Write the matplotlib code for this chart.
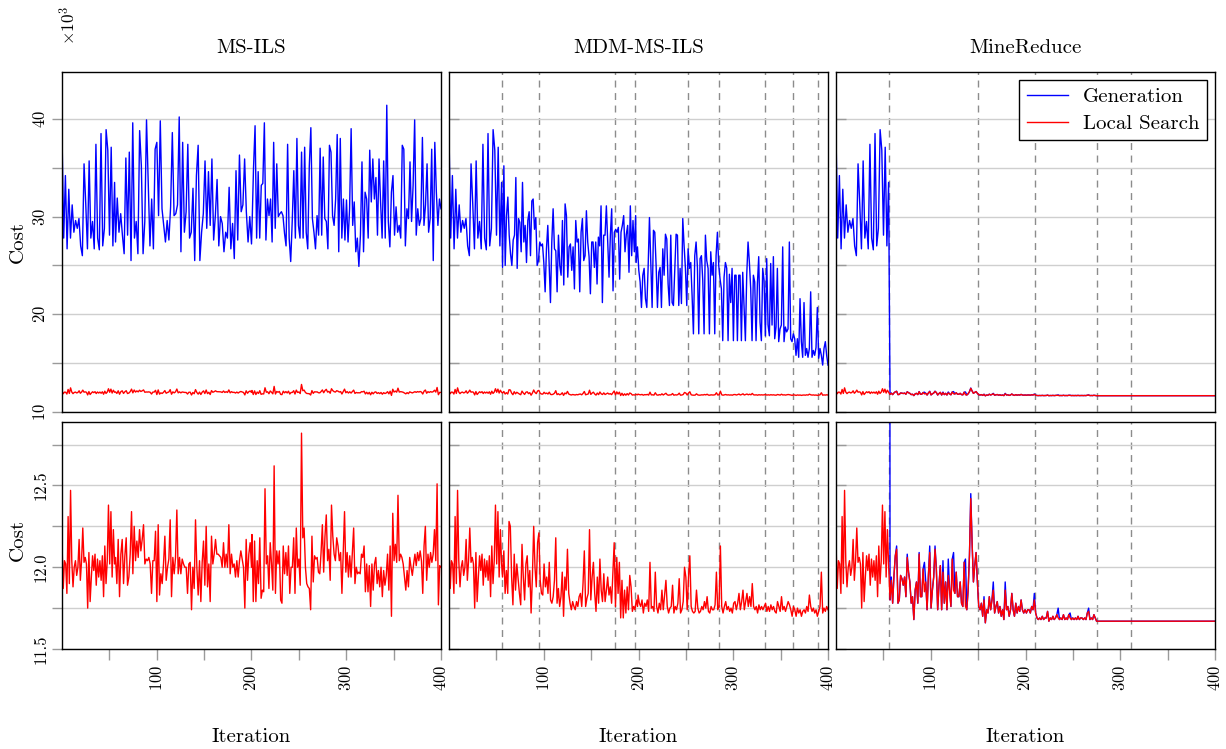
import matplotlib.pyplot as plt
import numpy as np

plt.rcParams['font.family'] = 'cmr10'
plt.rcParams['mathtext.fontset'] = 'cm'
plt.rcParams['axes.formatter.use_mathtext'] = True

# costs in thousands; the first 56 iterations are the same for all three methods
gen_start = [38.5, 27.8, 34.2, 26.7, 32.8, 27.8, 31.2, 28.4, 29.6, 28.8, 29.8, 27.0, 26.0, 35.4, 31.3, 26.7,
             35.7, 27.8, 29.5, 26.7, 37.4, 27.8, 26.6, 38.5, 27.0, 28.8, 38.9, 36.8, 28.1, 37.1, 27.0, 33.5]
ls_start = [12.15, 11.87, 12.04, 12.02, 11.84, 12.31, 11.90, 12.47, 12.04, 11.88, 12.00, 12.04, 11.95, 12.00,
            12.17, 11.92, 12.04, 12.24, 12.03, 12.06, 12.02, 11.75, 12.09, 11.79, 11.94, 12.07, 11.98, 12.08,
            11.89, 12.05, 11.94, 12.04, 11.92, 12.07, 11.82, 12.13, 11.90, 12.04, 12.38, 12.02, 12.34, 11.94,
            12.23, 12.02]

# MS-ILS
ms_gen_a = [27.4, 31.9, 28.4, 30.3, 28.1, 26.2, 36.0, 28.1, 36.6, 25.5, 39.6, 27.8, 29.5, 26.2, 38.8, 35.2,
            26.2, 29.5, 39.9, 33.5, 27.0, 31.8, 26.7, 36.9, 37.6, 30.1, 39.8, 30.8, 29.1, 27.4, 29.6, 27.6,
            31.0, 38.6, 30.1, 30.3, 31.2, 40.2, 26.4, 37.6, 28.4, 30.5, 37.4, 27.8, 28.4, 32.9, 25.5, 34.2,
            37.3, 25.5, 28.4, 30.3, 35.7, 28.8, 34.6, 29.1, 35.9, 27.6, 30.1, 33.8, 27.0, 30.0, 29.3, 26.4,
            28.4, 27.8, 33.0, 26.7, 29.3, 25.7, 34.7, 27.6, 36.3, 30.5, 31.2, 35.9, 30.5, 27.4, 30.0, 27.2]
ms_gen_b = [28.8, 35.0, 39.3, 27.8, 34.6, 27.8, 33.2, 33.4, 39.6, 27.6, 31.8, 30.1, 31.8, 27.4, 37.6, 28.8,
            35.4, 30.0, 30.3, 30.5, 30.1, 28.3, 27.0, 37.4, 27.8, 25.4, 29.6, 34.7, 27.8, 38.0, 29.1, 27.8,
            36.6, 27.8, 37.1, 28.4, 26.7, 35.2, 39.1, 29.8, 28.4, 26.7, 30.1, 28.1, 37.0, 28.1, 36.1, 29.8,
            29.5, 26.7, 37.3, 36.6, 30.1, 29.1, 31.8, 38.4, 26.4, 38.0, 27.8, 31.8, 27.6, 31.7, 27.4, 30.8,
            39.0, 29.1, 31.5, 26.4, 27.8, 24.9, 28.1, 35.6, 26.4, 32.5, 31.8, 27.8, 36.8, 31.5, 35.9, 31.8,
            34.0, 28.1, 35.9, 31.5, 27.8, 35.7, 27.8, 41.4, 29.5, 26.9, 32.5, 34.2, 28.1, 31.0, 28.4, 29.1,
            27.8, 37.3, 36.9, 27.0, 30.8, 29.8, 35.6, 29.5, 33.2, 39.9, 28.1, 30.8, 29.1, 29.8, 38.1, 29.1,
            31.2, 35.4, 28.4, 29.8, 36.9, 25.5, 37.6, 32.5, 29.1, 31.8, 30.8]
ms_ls_a = [12.06, 11.90, 12.17, 11.82, 12.08, 12.17, 11.90, 12.07, 12.18, 11.89, 11.94, 12.08, 12.34, 11.96,
           12.25, 12.04, 12.16, 12.06, 12.23, 12.10, 12.17, 12.26, 12.02, 12.05, 12.04, 12.06, 12.02, 11.84,
           12.04, 12.04, 12.22, 11.79, 12.26, 11.83, 11.96, 11.90, 12.02, 12.19, 11.92, 12.00, 12.05, 12.29,
           11.82, 12.06, 11.96, 12.06, 12.35, 11.96, 12.06, 11.96, 12.05, 12.02, 12.00, 12.00, 11.84, 12.02,
           12.03, 11.74, 12.00, 11.87, 12.29, 12.00, 11.83, 12.04, 11.79, 12.03, 12.16, 11.89, 12.25, 11.88,
           12.02, 11.79, 12.19, 12.02, 12.08, 12.17, 12.08, 12.08, 12.07, 12.06, 12.00, 12.15, 12.00, 12.08,
           12.00, 12.26, 11.96, 12.08, 12.00, 12.02, 11.94, 12.04, 11.94, 12.04, 12.10, 12.05, 12.00, 11.75,
           12.17, 11.92, 12.08, 12.15, 12.00]
ms_ls_b = [12.20, 11.79, 12.16, 11.79, 12.04, 11.90, 12.18, 11.81, 11.86, 11.85, 12.48, 12.02, 12.07, 11.87,
           12.15, 12.02, 11.86, 12.62, 11.84, 12.10, 12.02, 12.10, 11.80, 11.78, 12.13, 11.96, 12.09, 11.95,
           12.13, 11.84, 12.00, 12.00, 12.18, 11.84, 12.24, 12.00, 12.05, 11.89, 12.82, 12.18, 12.24, 12.00,
           11.90, 11.88, 11.87, 11.74, 12.19, 11.91, 12.07, 12.05, 12.06, 11.97, 11.96, 12.09, 12.26, 11.97,
           12.19, 12.32, 12.04, 12.11, 11.92, 12.38, 12.19, 12.08, 12.04, 12.18, 12.13, 12.04, 12.09, 11.84,
           12.10, 12.34, 11.97, 12.09, 11.94, 12.07, 11.94, 12.09, 12.24, 11.90, 12.00, 11.96, 11.97, 11.96,
           12.08, 12.06, 12.13, 11.85, 12.02, 11.85, 12.01, 11.76, 12.02, 11.86, 12.02, 12.06, 11.90, 11.98,
           11.88, 12.00, 11.82, 11.98, 11.89, 11.95, 12.08, 11.86, 12.13, 11.70, 12.33, 12.04, 12.14, 12.03,
           12.44, 12.04, 12.08, 12.06, 12.02, 11.94, 11.86, 11.98, 11.88, 12.06, 12.00, 11.95, 12.02, 12.08,
           12.01, 12.09, 12.04, 12.10, 12.04, 11.84, 12.13, 12.25, 11.92, 12.08, 12.00, 12.09, 12.03, 12.08,
           12.23, 12.04, 12.51, 11.77, 12.01, 12.00]

# MDM-MS-ILS
mdm_gen_a = [24.8, 35.2, 25.0, 30.1, 32.0, 28.1, 26.2, 25.0, 27.6, 28.1, 34.0, 24.7, 29.8, 29.4, 26.4, 33.5,
             27.4, 29.1, 25.3, 29.6, 30.5, 26.0, 31.6, 31.8, 28.7, 29.9, 25.0, 25.5, 27.4, 27.0, 27.2, 25.3,
             22.3, 26.7, 29.1, 25.0, 21.2, 27.4, 30.8, 26.7, 26.5, 22.3, 28.1, 25.0, 24.0, 29.6, 23.0, 31.3,
             30.1, 23.8, 26.9, 27.2, 24.5, 26.9, 22.6, 29.6, 27.4, 27.7, 22.3, 28.4, 29.8, 25.5, 26.0, 30.6,
             27.4, 25.9, 22.1, 27.4, 27.4, 24.8, 27.4, 23.1, 27.9, 27.0, 31.1, 21.2, 28.1, 28.1, 31.1, 27.4,
             23.8, 28.1, 30.8, 22.4, 28.4, 28.7, 28.4, 28.9, 23.6, 28.4, 29.1, 30.1, 26.4, 28.2, 29.1, 24.3,
             31.1, 26.0, 29.6, 26.4, 30.1]
mdm_gen_b = [25.3, 26.9, 24.5, 23.3, 20.7, 24.0, 24.7, 21.6, 20.7, 24.8, 29.9, 25.3, 20.7, 28.6, 28.4, 25.0,
             20.7, 24.3, 24.8, 20.7, 26.7, 24.0, 28.2, 27.7, 23.1, 20.9, 28.1, 21.2, 20.9, 24.7, 28.2, 28.1,
             20.9, 24.7, 21.1, 29.8, 27.0, 24.7, 20.9, 26.7, 24.7, 25.3, 21.9, 18.0, 26.0, 27.4, 24.8, 18.0,
             25.7, 26.0, 23.5, 18.0, 28.1, 25.5, 24.7, 18.0, 26.4, 24.0, 25.3, 18.0, 26.0, 28.4, 25.0, 23.6,
             22.6, 17.3, 23.8, 25.3, 24.7, 17.3, 24.1, 21.2, 24.7, 17.3, 24.0, 24.0, 17.3, 24.0, 24.0, 17.3,
             24.3, 20.9, 17.3, 24.0, 27.4, 25.3, 22.6, 17.3, 24.0, 23.3, 17.3, 23.1, 25.9, 19.2, 17.3, 24.7,
             23.5, 17.8, 25.7, 18.9, 17.8, 25.2, 18.9, 25.9, 17.5, 18.7, 24.7, 17.2, 18.5, 18.9, 26.9, 17.2,
             18.7, 18.2, 18.5, 27.4, 17.5, 17.2, 18.0, 17.5, 15.8, 17.5, 15.6, 21.6, 17.2, 15.6, 21.2, 15.8,
             16.5, 15.6, 16.5, 22.3, 15.6, 16.3, 15.8, 16.6, 20.7, 15.5, 16.5, 15.8, 14.8, 16.5, 17.2, 15.8,
             14.8]
mdm_ls_a = [11.94, 12.10, 11.84, 11.98, 11.84, 12.28, 12.25, 11.94, 11.77, 12.08, 11.86, 12.02, 11.93, 11.84,
            11.77, 12.14, 11.94, 11.80, 12.02, 12.07, 11.88, 11.98, 11.72, 11.94, 12.25, 12.00, 11.88, 12.15,
            12.21, 11.92, 11.84, 11.83, 12.02, 11.88, 11.94, 11.84, 12.03, 11.80, 11.78, 11.82, 11.92, 12.18,
            11.78, 11.87, 11.76, 11.82, 11.97, 11.70, 11.94, 11.86, 12.11, 11.84, 11.78, 11.74, 11.79, 11.76,
            11.74, 11.79, 11.76, 11.82, 11.84, 11.76, 11.90, 12.10, 11.76, 11.81, 11.84, 12.23, 11.80, 11.94,
            12.03, 11.84, 11.73, 11.94, 11.78, 12.05, 11.86, 11.79, 11.96, 11.79, 11.86, 11.94, 11.83, 11.88,
            11.78, 11.97, 12.15, 11.76, 12.06, 11.84, 12.03, 11.69, 11.92, 11.69, 11.86, 11.72, 11.88, 11.74,
            11.95, 11.88, 11.73, 11.76, 11.74, 11.80, 11.76]
mdm_ls_b = [11.83, 11.78, 11.76, 11.80, 11.72, 11.78, 11.76, 11.80, 11.73, 12.03, 11.75, 11.76, 11.73, 11.97,
            11.76, 11.72, 11.78, 11.74, 11.86, 11.74, 11.83, 11.92, 11.76, 11.72, 11.75, 11.76, 11.89, 11.72,
            11.76, 11.74, 11.78, 11.93, 11.72, 11.74, 11.79, 12.00, 11.94, 11.74, 11.94, 12.07, 11.76, 11.73,
            11.72, 11.73, 11.86, 11.75, 11.72, 11.73, 11.76, 11.74, 11.79, 11.75, 11.82, 11.73, 11.72, 11.76,
            11.74, 11.74, 11.77, 11.97, 11.74, 11.76, 12.13, 11.76, 11.72, 11.76, 11.79, 11.74, 11.76, 11.73,
            11.75, 11.72, 11.78, 11.79, 11.74, 11.78, 11.84, 11.74, 11.79, 11.86, 11.74, 11.79, 11.84, 11.76,
            11.82, 11.76, 11.90, 11.76, 11.74, 11.76, 11.72, 11.77, 11.74, 11.76, 11.74, 11.76, 11.78, 11.73,
            11.76, 11.73, 11.77, 11.74, 11.76, 11.73, 11.72, 11.79, 11.76, 11.73, 11.82, 11.74, 11.76, 11.73,
            11.76, 11.79, 11.77, 11.74, 11.70, 11.76, 11.74, 11.70, 11.75, 11.72, 11.74, 11.70, 11.73, 11.74,
            11.72, 11.76, 11.73, 11.83, 11.76, 11.73, 11.75, 11.72, 11.74, 11.70, 11.73, 11.76, 11.97, 11.72,
            11.75, 11.73, 11.76, 11.74]

# MineReduce
mr_ls_a = [11.80, 11.92, 11.78, 11.95, 12.07, 12.11, 11.78, 11.80, 11.95, 11.93, 11.89, 11.94, 11.82, 12.06,
           11.97, 11.91, 11.78, 11.82, 11.68, 11.86, 11.91, 11.78, 12.08, 11.82, 11.82, 11.99, 11.85, 11.91,
           11.74, 11.95, 12.09, 11.75, 11.86, 11.94, 12.11, 11.99, 11.74, 11.89, 12.01, 11.74, 11.97, 11.78,
           11.91, 11.74, 11.95, 11.86, 11.76, 12.05, 11.86, 11.84, 11.97, 11.82, 11.82, 11.91, 11.78, 11.76,
           12.03, 11.76, 11.74, 11.86, 12.07, 12.42, 12.15, 11.91, 12.01, 12.09, 11.91, 11.76, 11.74, 11.78,
           11.70, 11.80, 11.66, 11.74, 11.72, 11.82, 11.74, 11.80, 11.86, 11.72, 11.76, 11.79, 11.72, 11.76,
           11.70, 11.74, 11.68, 11.86, 11.74, 11.76, 11.70, 11.74, 11.84, 11.74, 11.70, 11.78, 11.72, 11.76,
           11.73, 11.80, 11.74, 11.72, 11.74, 11.72, 11.74, 11.74, 11.72, 11.76, 11.74, 11.80, 11.72, 11.69,
           11.68, 11.69, 11.68, 11.70, 11.68, 11.69, 11.69, 11.73, 11.67, 11.69, 11.68, 11.70, 11.68, 11.69,
           11.71, 11.69, 11.68, 11.69, 11.68, 11.71, 11.68, 11.69, 11.68, 11.71, 11.69, 11.68, 11.69, 11.68,
           11.69, 11.68, 11.70, 11.68, 11.69, 11.69, 11.68, 11.69, 11.68, 11.72, 11.73, 11.68, 11.69, 11.68,
           11.71, 11.69, 11.67]
mr_ls_b = [11.67, 11.67]
# where the generated solution sits visibly above the local search result
mr_gen_peak_iter = [58.6, 63.5, 75.5, 88.1, 93.8, 99.4, 105.0, 113.5, 119.1, 124.0, 136.0, 142.6, 147.9,
                    155.7, 165.5, 178.2, 209.1, 234.5, 247.1, 266.8]
mr_gen_peak_val = [11.94, 12.13, 12.08, 12.09, 12.03, 12.13, 12.13, 12.04, 12.05, 12.09, 12.05, 12.45, 12.09,
                   11.82, 11.91, 11.91, 11.84, 11.75, 11.72, 11.75]

mdm_restarts = [56, 95, 175, 196, 252, 285, 334, 363, 389]
mr_restarts = [56, 150, 210, 275, 311]

titles = ['MS-ILS', 'MDM-MS-ILS', 'MineReduce']


def series(*parts):
    xs = [np.linspace(a, b, len(v)) for a, b, v in parts]
    return np.concatenate(xs), np.concatenate([np.asarray(v, float) for a, b, v in parts])


ms_gen = series((0, 55.5, gen_start), (56.5, 200, ms_gen_a), (200.5, 400, ms_gen_b))
ms_ls = series((0, 55.5, ls_start), (56.5, 200, ms_ls_a), (200.5, 400, ms_ls_b))
mdm_gen = series((0, 55.5, gen_start), (56.5, 197, mdm_gen_a), (197.5, 400, mdm_gen_b))
mdm_ls = series((0, 55.5, ls_start), (56.5, 199, mdm_ls_a), (199.5, 400, mdm_ls_b))
mr_ls = series((0, 55.5, ls_start), (57, 275, mr_ls_a), (276, 400, mr_ls_b))
mr_gen = series((0, 55.5, gen_start), (57, 275, mr_ls_a), (276, 400, mr_ls_b))
for it, v in zip(mr_gen_peak_iter, mr_gen_peak_val):
    mr_gen[1][np.argmin(np.abs(mr_gen[0] - it))] = v

data = [(ms_gen, ms_ls, []), (mdm_gen, mdm_ls, mdm_restarts), (mr_gen, mr_ls, mr_restarts)]

W, H = 1226, 749
fig = plt.figure(figsize=(W / 100, H / 100), dpi=100)
lefts = [62, 449, 836]
grey = '#9a9a9a'

for c in range(3):
    gen, ls, restarts = data[c]
    ax_t = fig.add_axes([lefts[c] / W, 1 - 412 / H, 379 / W, 340 / H])
    ax_b = fig.add_axes([lefts[c] / W, 1 - 649 / H, 379 / W, 227.3 / H])
    for ax in (ax_t, ax_b):
        ax.plot(gen[0], gen[1], color='#0000ff', lw=1.0, label='Generation')
        ax.plot(ls[0], ls[1], color='#ff0000', lw=1.0, label='Local Search')
        for r in restarts:
            ax.axvline(r, color='#8c8c8c', lw=1.0, dashes=(5, 4), zorder=0.5)
        ax.set_xlim(0, 400)
        ax.grid(axis='y', which='both', color='#cfcfcf', lw=1.0)
        ax.set_axisbelow(True)
        for s in ax.spines.values():
            s.set_linewidth(1.0)
        ax.tick_params(axis='y', which='both', color=grey, length=7, width=1,
                       direction='out' if c == 0 else 'in', labelsize=12, pad=3)
        if c > 0:
            ax.tick_params(axis='y', labelleft=False)

    ax_t.set_ylim(10, 44.8)
    ax_t.set_yticks([10, 20, 30, 40])
    ax_t.set_yticks([15, 25, 35], minor=True)
    ax_t.set_xticks([])
    ax_t.set_title(titles[c], fontsize=15, pad=14)

    ax_b.set_ylim(11.5, 12.89)
    ax_b.set_yticks([11.5, 12.0, 12.5])
    ax_b.set_yticklabels(['11.5', '12.0', '12.5'])
    ax_b.set_yticks([11.75, 12.25, 12.75], minor=True)
    ax_b.set_xticks([100, 200, 300, 400])
    ax_b.set_xticks([50, 150, 250, 350], minor=True)
    ax_b.tick_params(axis='x', which='both', color=grey, length=8, width=1, direction='out',
                     labelsize=12, labelrotation=90, pad=3)

    for ax in (ax_t, ax_b):
        for lab in ax.get_yticklabels():
            lab.set_rotation(90)
            lab.set_va('center')

    fig.text((lefts[c] + 189.5) / W, 1 - 737 / H, 'Iteration', fontsize=15, ha='center', va='center')

    if c == 2:
        leg = ax_t.legend(loc='upper right', fontsize=15, frameon=True, fancybox=False, framealpha=1,
                          edgecolor='black', handlelength=2.0, handletextpad=0.7, borderaxespad=0.4,
                          labelspacing=0.4, borderpad=0.35)
        leg.get_frame().set_linewidth(1.0)

fig.text(18 / W, 1 - 242 / H, 'Cost', fontsize=15, rotation=90, ha='center', va='center')
fig.text(18 / W, 1 - 540 / H, 'Cost', fontsize=15, rotation=90, ha='center', va='center')
fig.text(68 / W, 1 - 25 / H, r'$\times 10^{3}$', fontsize=12.5, rotation=90, ha='center', va='center')

fig.savefig('out.png', dpi=100)
